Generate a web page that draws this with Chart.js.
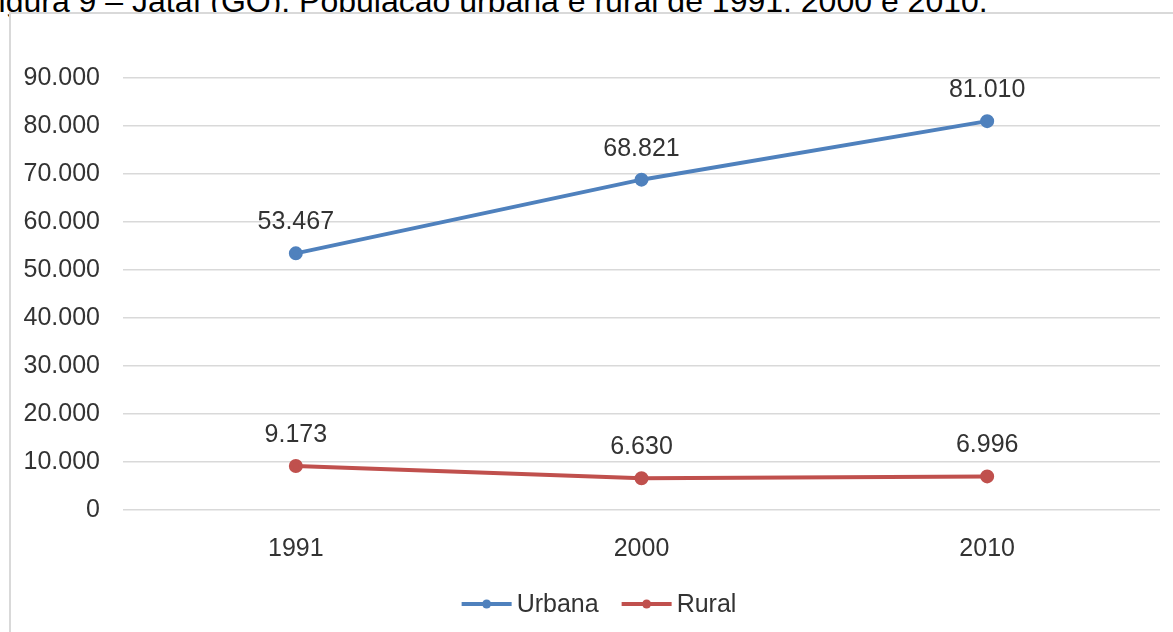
<!DOCTYPE html>
<html lang="pt-BR">
<head>
<meta charset="utf-8">
<title>Jataí (GO): População urbana e rural</title>
<script src="https://cdn.jsdelivr.net/npm/chart.js@4.4.1/dist/chart.umd.min.js"></script>
<style>
  html, body { margin: 0; padding: 0; background: #fff; overflow: hidden; }
  body { width: 1173px; height: 632px; position: relative; }
  #titulo {
    position: absolute; left: -21px; top: -17px;
    font: 32px "Liberation Sans", Arial, sans-serif; line-height: 36px;
    color: #000; white-space: nowrap;
  }
  #caixa {
    position: absolute; left: 9px; top: 12px;
    width: 1200px; height: 700px;
    border: 2px solid #d9d9d9; background: #fff;
  }
  #grafico { position: absolute; left: 0; top: 0; }
</style>
</head>
<body>
<div id="titulo">Figura 9 – Jataí (GO): População urbana e rural de 1991, 2000 e 2010.</div>
<div id="caixa">
  <canvas id="grafico" width="1162" height="618"></canvas>
</div>
<script>
// dados do gráfico
var anos = ['1991', '2000', '2010'];
var urbana = [53467, 68821, 81010];
var rural = [9173, 6630, 6996];
var nomesSeries = ['Urbana', 'Rural'];
var yMin = 0;
var yMax = 90000;
var yPasso = 10000;

var corUrbana = '#4f81bd';
var corRural = '#c0504d';
var corTexto = '#333333';
var fonte = { family: '"Liberation Sans", Arial, sans-serif', size: 25 };

// número no formato brasileiro: 53.467
function formata(v) {
  return String(v).replace(/\B(?=(\d{3})+(?!\d))/g, '.');
}

// rótulos de valor acima de cada ponto
var rotulos = {
  id: 'rotulos',
  afterDatasetsDraw: function(chart) {
    var ctx = chart.ctx;
    ctx.save();
    ctx.font = fonte.size + 'px ' + fonte.family;
    ctx.fillStyle = corTexto;
    ctx.textAlign = 'center';
    ctx.textBaseline = 'middle';
    chart.data.datasets.forEach(function(ds, i) {
      chart.getDatasetMeta(i).data.forEach(function(pt, j) {
        ctx.fillText(formata(ds.data[j]), pt.x, pt.y - 31);
      });
    });
    ctx.restore();
  }
};

// legenda no estilo do Excel (linha com marcador)
var legenda = {
  id: 'legenda',
  afterDraw: function(chart) {
    var ctx = chart.ctx;
    var larguraLinha = 50, espaco = 5, entre = 23;
    var centroX = chart.width / 2 + 7;
    var y = 590;
    ctx.save();
    ctx.font = fonte.size + 'px ' + fonte.family;
    var itens = chart.data.datasets.map(function(ds) {
      return { ds: ds, w: larguraLinha + espaco + ctx.measureText(ds.label).width };
    });
    var total = itens.reduce(function(s, it) { return s + it.w; }, 0) + entre * (itens.length - 1);
    var x = centroX - total / 2;
    itens.forEach(function(it) {
      ctx.strokeStyle = it.ds.borderColor;
      ctx.lineWidth = 4;
      ctx.beginPath();
      ctx.moveTo(x, y);
      ctx.lineTo(x + larguraLinha, y);
      ctx.stroke();
      ctx.fillStyle = it.ds.borderColor;
      ctx.beginPath();
      ctx.arc(x + larguraLinha / 2, y, 4.5, 0, Math.PI * 2);
      ctx.fill();
      ctx.fillStyle = corTexto;
      ctx.textAlign = 'left';
      ctx.textBaseline = 'middle';
      ctx.fillText(it.ds.label, x + larguraLinha + espaco, y + 1);
      x += it.w + entre;
    });
    ctx.restore();
  }
};

var dados = {
  labels: anos,
  datasets: [
    {
      label: nomesSeries[0],
      data: urbana,
      borderColor: corUrbana,
      backgroundColor: corUrbana,
      borderWidth: 4,
      pointRadius: 5,
      pointHoverRadius: 5,
      tension: 0
    },
    {
      label: nomesSeries[1],
      data: rural,
      borderColor: corRural,
      backgroundColor: corRural,
      borderWidth: 4,
      pointRadius: 5,
      pointHoverRadius: 5,
      tension: 0
    }
  ]
};

var options = {
  responsive: false,
  animation: false,
  layout: { padding: { top: 64, right: 13, bottom: 0, left: 0 } },
  scales: {
    x: {
      offset: true,
      grid: { display: false },
      border: { display: false },
      ticks: { color: corTexto, font: fonte, padding: 16 },
      afterFit: function(scale) { scale.height = 122; }
    },
    y: {
      min: yMin,
      max: yMax,
      grid: { color: '#d9d9d9', lineWidth: 1.5, drawTicks: false },
      border: { display: false },
      ticks: {
        stepSize: yPasso,
        color: corTexto,
        font: fonte,
        padding: 23,
        callback: function(v) { return formata(v); }
      },
      afterFit: function(scale) { scale.width = 112; }
    }
  },
  plugins: {
    legend: { display: false },
    tooltip: { enabled: false }
  }
};

const grafico = new Chart(document.getElementById('grafico'), {
  type: 'line',
  data: dados,
  options: options,
  plugins: [rotulos, legenda]
});
</script>
</body>
</html>
